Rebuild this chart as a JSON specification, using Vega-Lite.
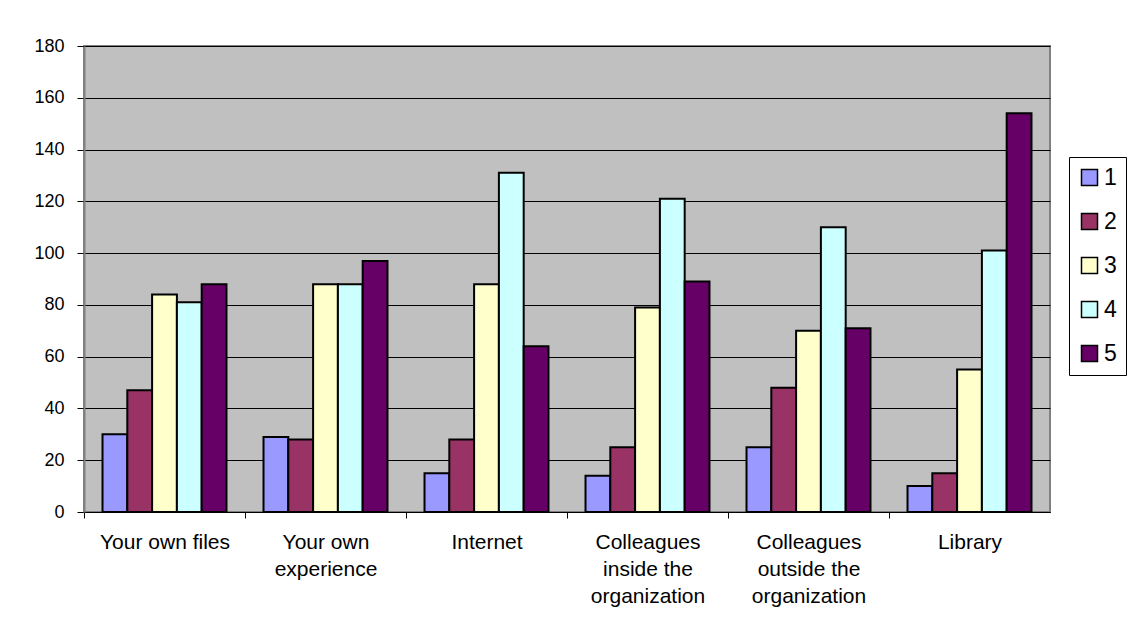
{
  "$schema": "https://vega.github.io/schema/vega-lite/v6.json",
  "width": 966,
  "height": 466,
  "autosize": {"type": "none"},
  "padding": {"left": 84, "top": 46, "right": 81, "bottom": 118},
  "background": "white",
  "config": {
    "font": "Liberation Sans",
    "view": {"fill": "#C0C0C0", "stroke": "#808080", "strokeWidth": 2}
  },
  "data": {
    "values": [
      {"source": "Your own files", "rating": "1", "count": 30},
      {"source": "Your own files", "rating": "2", "count": 47},
      {"source": "Your own files", "rating": "3", "count": 84},
      {"source": "Your own files", "rating": "4", "count": 81},
      {"source": "Your own files", "rating": "5", "count": 88},
      {"source": "Your own|experience", "rating": "1", "count": 29},
      {"source": "Your own|experience", "rating": "2", "count": 28},
      {"source": "Your own|experience", "rating": "3", "count": 88},
      {"source": "Your own|experience", "rating": "4", "count": 88},
      {"source": "Your own|experience", "rating": "5", "count": 97},
      {"source": "Internet", "rating": "1", "count": 15},
      {"source": "Internet", "rating": "2", "count": 28},
      {"source": "Internet", "rating": "3", "count": 88},
      {"source": "Internet", "rating": "4", "count": 131},
      {"source": "Internet", "rating": "5", "count": 64},
      {"source": "Colleagues|inside the|organization", "rating": "1", "count": 14},
      {"source": "Colleagues|inside the|organization", "rating": "2", "count": 25},
      {"source": "Colleagues|inside the|organization", "rating": "3", "count": 79},
      {"source": "Colleagues|inside the|organization", "rating": "4", "count": 121},
      {"source": "Colleagues|inside the|organization", "rating": "5", "count": 89},
      {"source": "Colleagues|outside the|organization", "rating": "1", "count": 25},
      {"source": "Colleagues|outside the|organization", "rating": "2", "count": 48},
      {"source": "Colleagues|outside the|organization", "rating": "3", "count": 70},
      {"source": "Colleagues|outside the|organization", "rating": "4", "count": 110},
      {"source": "Colleagues|outside the|organization", "rating": "5", "count": 71},
      {"source": "Library", "rating": "1", "count": 10},
      {"source": "Library", "rating": "2", "count": 15},
      {"source": "Library", "rating": "3", "count": 55},
      {"source": "Library", "rating": "4", "count": 101},
      {"source": "Library", "rating": "5", "count": 154}
    ]
  },
  "mark": {"type": "bar", "stroke": "black", "strokeWidth": 2},
  "encoding": {
    "x": {
      "field": "source",
      "type": "nominal",
      "sort": null,
      "scale": {"paddingInner": 0.23, "paddingOuter": 0.115},
      "axis": {
        "title": null,
        "labelAngle": 0,
        "labelExpr": "split(datum.value, '|')",
        "labelFontSize": 21,
        "labelLineHeight": 27,
        "labelColor": "black",
        "labelPadding": 13,
        "labelOffset": 18.5,
        "bandPosition": 0,
        "tickOffset": -18.5,
        "tickSize": 6,
        "tickColor": "black",
        "domainColor": "black",
        "domainWidth": 1,
        "grid": false
      }
    },
    "xOffset": {"field": "rating", "type": "nominal", "sort": ["1", "2", "3", "4", "5"]},
    "y": {
      "field": "count",
      "type": "quantitative",
      "scale": {"domain": [0, 180]},
      "axis": {
        "title": null,
        "values": [0, 20, 40, 60, 80, 100, 120, 140, 160, 180],
        "labelFontSize": 18,
        "labelColor": "black",
        "labelPadding": 13,
        "tickSize": 7,
        "tickColor": "black",
        "domainColor": "#808080",
        "domainWidth": 2,
        "gridColor": "black",
        "gridWidth": 1,
        "gridOpacity": 1
      }
    },
    "color": {
      "field": "rating",
      "type": "nominal",
      "scale": {
        "domain": ["1", "2", "3", "4", "5"],
        "range": ["#9999FF", "#993366", "#FFFFCC", "#CCFFFF", "#660066"]
      },
      "legend": {
        "title": null,
        "orient": "none",
        "legendX": 985,
        "legendY": 111,
        "strokeColor": "black",
        "fillColor": "white",
        "padding": 9,
        "symbolType": "square",
        "symbolSize": 256,
        "symbolStrokeColor": "black",
        "symbolStrokeWidth": 1.5,
        "symbolOpacity": 1,
        "labelFontSize": 23,
        "labelColor": "black",
        "labelOffset": 3,
        "rowPadding": 20
      }
    }
  }
}
